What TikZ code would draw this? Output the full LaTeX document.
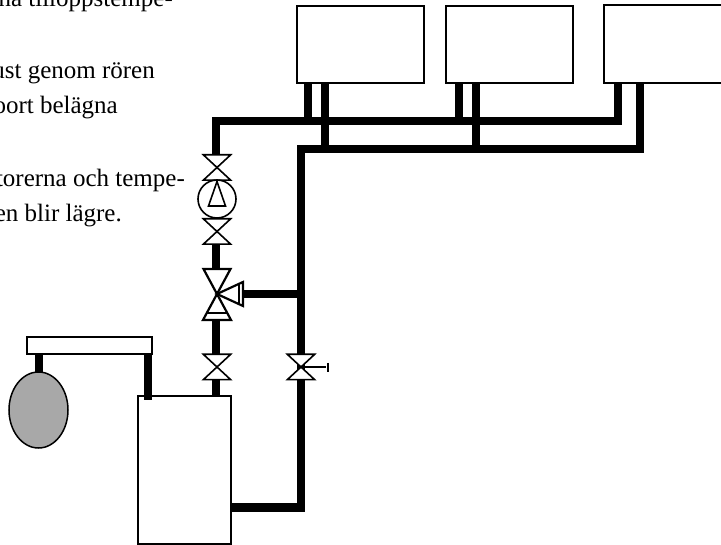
\documentclass[tikz,border=0pt]{standalone}
\usepackage{fontspec}
\setmainfont{Liberation Serif}
\usetikzlibrary{shapes.geometric}
\tikzset{
  x=1pt,y=-1pt,
  pipe/.style={line width=8.4pt,line cap=butt,line join=miter},
  box/.style={draw,fill=white,line width=1.4pt,rectangle,inner sep=0pt,outer sep=0pt},
  sym/.style={draw,fill=white,line width=1.6pt,line join=miter},
  symthick/.style={draw,fill=white,line width=2.2pt,line join=miter},
  txt/.style={anchor=base east,inner sep=0pt,font=\fontsize{25}{30}\selectfont},
  vvalve/.pic={
    \path[sym] (-13.7,-12.7) -- (13.7,-12.7) -- (-13.7,12.7) -- (13.7,12.7) -- cycle;
  }
}
\begin{document}
\begin{tikzpicture}
\useasboundingbox (0,0) rectangle (721,545);
% texts
\node[txt] (t1) at (173,7) {na tilloppstempe-};
\node[txt] (t2) at (155,79) {ust genom rören};
\node[txt] (t3) at (118,114) {oort belägna};
\node[txt] (t4) at (185,187) {torerna och tempe-};
\node[txt] (t5) at (122,222) {en blir lägre.};
% boxes
\node[box,minimum width=127pt,minimum height=77pt] (b1) at (360.5,44.5) {};
\node[box,minimum width=127pt,minimum height=77pt] (b2) at (509.5,44.5) {};
\node[box,minimum width=118pt,minimum height=78pt] (b3) at (663,44) {};
\node[box,minimum width=93pt,minimum height=148pt] (tank) at (184.5,470) {};
\node[box,minimum width=125pt,minimum height=17pt] (top) at (89.5,345.5) {};
\node[draw,fill=black!34,line width=1.5pt,ellipse,inner sep=0pt,outer sep=0pt,minimum width=59pt,minimum height=76pt] (exp) at (38.5,410) {};
% junctions
\coordinate (a1) at (308,121);
\coordinate (a2) at (459,121);
\coordinate (a3) at (617.7,121);
\coordinate (c0) at (216,121);
\coordinate (c1) at (324.7,149);
\coordinate (c2) at (475.7,149);
\coordinate (c3) at (640,149);
\coordinate (c4) at (301,149);
\coordinate (j) at (301,294);
\coordinate (v1) at (217,167.5);
\coordinate (pu) at (217,199);
\coordinate (v2) at (217,231.5);
\coordinate (mix) at (217,294);
\coordinate (v3) at (217,367);
\coordinate (v4) at (301,367);
\coordinate (r) at (301,507.7);
% pipes
\draw[pipe] (a3 |- b3.south) -- (a3) -- (c0) -- (216,155);
\draw[pipe] (a1 |- b1.south) -- (a1);
\draw[pipe] (a2 |- b2.south) -- (a2);
\draw[pipe] (c1 |- b1.south) -- (c1);
\draw[pipe] (c2 |- b2.south) -- (c2);
\draw[pipe] (c3 |- b3.south) -- (c3) -- (c4) -- (v4);
\draw[pipe] (216,244) -- (216,269);
\draw[pipe] (216,320) -- (216,354);
\draw[pipe] (216,380) -- (216,396);
\draw[pipe] (j) -- (243,294);
\draw[pipe] (v4) -- (r) -- (tank.east |- r);
\draw[pipe,line width=8.2pt] (39,354) -- (39,372);
\draw[pipe,line width=8.2pt] (148,354) -- (148,400);
% valves
\path (v1) pic {vvalve};
\path (v2) pic {vvalve};
\path (v3) pic {vvalve};
\path (v4) pic {vvalve};
\draw[line width=1.2pt] (v4) -- (326,367);
\draw[line width=1.3pt] (328,363) -- (328,372);
% pump
\node[draw,fill=white,circle,line width=1.6pt,minimum size=38pt,inner sep=0pt] (pump) at (pu) {};
\path[sym] (217,181.5) -- (225.5,206) -- (208.5,206) -- cycle;
% three-way
\path[symthick] (203.5,269) -- (230.5,269) -- (217,294) -- cycle;
\path[symthick] (217,294) -- (231,320) -- (203,320) -- cycle;
\draw[line width=1.4pt] (207,313) -- (227,313);
\path[symthick] (217,294) -- (243,282) -- (243,306) -- cycle;
\draw[line width=1.4pt] (239,284) -- (239,304);
\end{tikzpicture}
\end{document}
